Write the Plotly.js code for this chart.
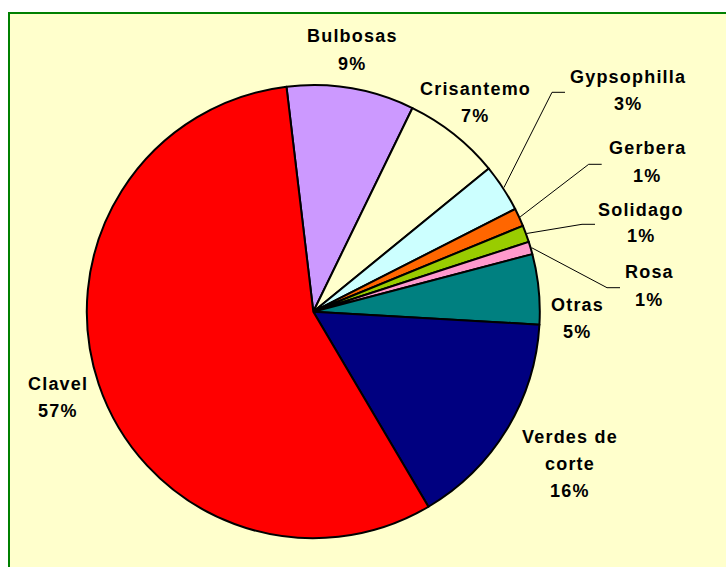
<!DOCTYPE html>
<html>
<head>
<meta charset="utf-8">
<script src="https://cdn.plot.ly/plotly-3.0.1.min.js"></script>
<style>
  html, body { margin: 0; padding: 0; background: #ffffff; }
  #chart { width: 726px; height: 567px; }
  .annotation-text { letter-spacing: 1.2px; }
</style>
</head>
<body>
<div id="chart"></div>
<script>
// ---- data ----
const categories = ['Bulbosas', 'Crisantemo', 'Gypsophilla', 'Gerbera', 'Solidago', 'Rosa', 'Otras', 'Verdes de corte', 'Clavel'];
const values = [9.1, 6.9, 3.4, 1.3, 1.2, 0.9, 5.0, 15.6, 56.6];
const labelLines = [['Bulbosas'], ['Crisantemo'], ['Gypsophilla'], ['Gerbera'], ['Solidago'], ['Rosa'], ['Otras'], ['Verdes de', 'corte'], ['Clavel']];

// ---- styles / layout ----
const colors = ['#CC99FF', '#FFFFCC', '#CCFFFF', '#FF6600', '#99CC00', '#FF99CC', '#008080', '#000080', '#FF0000'];
const W = 726, H = 567;
const CX = 313.3, CY = 311.7, R = 226.5;
const ROT = -6.8;
const labelPos = [[352, 36.5], [475, 89], [628, 77], [647, 148.5], [641, 209.5], [649, 272.5], [577, 304.5], [569.5, 436.5], [58.3, 383.5]];
const lineGap = 27;
const leaderIdx = [2, 3, 4, 5];
const leaderEnd = [[565, 92.3], [601.7, 164.3], [595, 224.3], [620, 287.7]];
const elbowLen = 13;

const px = x => x / W;
const py = y => 1 - y / H;

const total = values.reduce((a, b) => a + b, 0);
const pct = values.map(v => Math.round(v / total * 100) + '%');

// mid angles (deg from 12 o'clock, clockwise)
const midAng = [];
let cum = 0;
values.forEach(v => { midAng.push(ROT + (cum + v / 2) / total * 360); cum += v; });

const annotations = [];
categories.forEach((c, i) => {
  const lines = labelLines[i].concat([pct[i]]);
  lines.forEach((t, k) => {
    annotations.push({
      xref: 'paper', yref: 'paper',
      x: px(labelPos[i][0]), y: py(labelPos[i][1] + k * lineGap),
      xanchor: 'center', yanchor: 'middle',
      text: t, showarrow: false,
      font: { family: 'Liberation Sans, Arial, sans-serif', size: 18, color: '#000000', weight: 'bold' }
    });
  });
});

const shapes = [{
  type: 'rect', xref: 'paper', yref: 'paper', layer: 'below',
  x0: px(9), x1: 1.2, y0: -0.2, y1: py(13),
  fillcolor: '#FFFFCC', line: { color: '#008000', width: 2 }
}];

leaderIdx.forEach((i, j) => {
  const a = midAng[i] * Math.PI / 180;
  const ax = CX + (R + 1) * Math.sin(a), ay = CY - (R + 1) * Math.cos(a);
  const e = leaderEnd[j];
  const path = 'M ' + px(ax) + ' ' + py(ay) + ' L ' + px(e[0] - elbowLen) + ' ' + py(e[1]) + ' L ' + px(e[0]) + ' ' + py(e[1]);
  shapes.push({ type: 'path', xref: 'paper', yref: 'paper', path: path, line: { color: '#000000', width: 1 } });
});

const trace = {
  type: 'pie',
  labels: categories,
  values: values,
  sort: false,
  direction: 'clockwise',
  rotation: ROT,
  textinfo: 'none',
  hoverinfo: 'skip',
  marker: { colors: colors, line: { color: '#000000', width: 2 } },
  domain: { x: [px(CX - R), px(CX + R)], y: [py(CY + R), py(CY - R)] },
  showlegend: false
};

const layout = {
  width: W, height: H,
  margin: { l: 0, r: 0, t: 0, b: 0 },
  paper_bgcolor: '#ffffff',
  showlegend: false,
  annotations: annotations,
  shapes: shapes
};

Plotly.newPlot('chart', [trace], layout, { staticPlot: true, displayModeBar: false });
</script>
</body>
</html>
